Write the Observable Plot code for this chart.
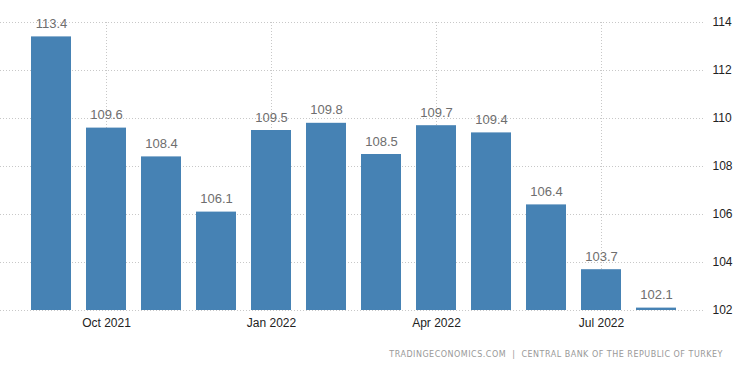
<!DOCTYPE html>
<html>
<head>
<meta charset="utf-8">
<script src="https://cdn.jsdelivr.net/npm/d3@7"></script>
<script src="https://cdn.jsdelivr.net/npm/@observablehq/plot@0.6"></script>
<style>
  html, body { margin: 0; padding: 0; background: #fff; }
  #chart { width: 750px; height: 373px; position: relative; overflow: hidden; }
  #caption { height: 33px; line-height: 30px; text-align: right; padding-right: 27px;
    font-family: "DejaVu Sans", Verdana, sans-serif; font-size: 8px; letter-spacing: 0.5px; color: #999; white-space: pre; }
</style>
</head>
<body>
<div id="chart"></div>
<script>
const months = ["Sep 2021","Oct 2021","Nov 2021","Dec 2021","Jan 2022","Feb 2022","Mar 2022","Apr 2022","May 2022","Jun 2022","Jul 2022","Aug 2022"];
const values = [113.4, 109.6, 108.4, 106.1, 109.5, 109.8, 108.5, 109.7, 109.4, 106.4, 103.7, 102.1];
const xTicks = ["Oct 2021","Jan 2022","Apr 2022","Jul 2022"];
const yTicks = [102, 104, 106, 108, 110, 112, 114];
const captionText = "TRADINGECONOMICS.COM  |  CENTRAL BANK OF THE REPUBLIC OF TURKEY";

const data = months.map((m, i) => ({month: m, value: values[i]}));
const yMin = yTicks[0], yMax = yTicks[yTicks.length - 1];

const chart = Plot.plot({
  width: 750,
  height: 340,
  marginLeft: 0,
  marginRight: 45,
  marginTop: 22,
  marginBottom: 30,
  style: {fontFamily: "'Liberation Sans', Arial, sans-serif", fontSize: "12px", color: "#222", background: "#fff"},
  x: {type: "band", domain: months, range: [30, 677], paddingInner: 0.275, paddingOuter: 0, align: 0.5, label: null},
  y: {domain: [yMin, yMax], label: null},
  marks: [
    Plot.gridY({ticks: yTicks, stroke: "#c8c8c8", strokeOpacity: 1, strokeDasharray: "1,2"}),
    Plot.gridX({ticks: xTicks, stroke: "#c8c8c8", strokeOpacity: 1, strokeDasharray: "1,2"}),
    Plot.barY(data, {x: "month", y1: () => yMin, y2: "value", fill: "#4682b4"}),
    Plot.text(data, {x: "month", y: "value", text: d => d.value.toFixed(1), dy: -13,
      fill: "#6e6e6e", fontSize: 13, fontFamily: "'Liberation Sans', Arial, sans-serif"}),
    Plot.axisY({ticks: yTicks, anchor: "right", tickSize: 0, tickPadding: 7, label: null, fill: "#222"}),
    Plot.axisX({ticks: xTicks, anchor: "bottom", tickSize: 0, tickPadding: 8, label: null, fill: "#222"})
  ]
});
document.getElementById("chart").appendChild(chart);
const cap = document.createElement("div");
cap.id = "caption";
cap.textContent = captionText;
document.getElementById("chart").appendChild(cap);
</script>
</body>
</html>
